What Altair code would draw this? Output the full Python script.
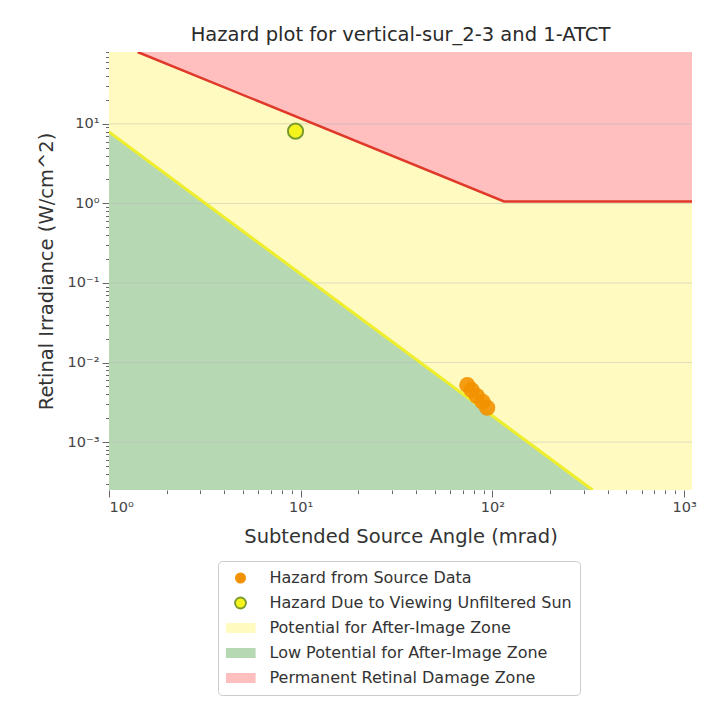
import altair as alt
import pandas as pd

# ---------------- data ----------------
x_domain = [1, 1100]
y_domain = [2.5e-4, 80]

# permanent retinal damage boundary (red)
red_x = [1.41, 115, 1100]
red_y = [80, 1.06, 1.06]

# after-image boundary (yellow line over green zone)
green_x = [1, 333]
green_y = [7.9, 2.5e-4]

# hazard from source data (orange)
src_x = [74, 78, 83, 89, 94]
src_y = [5.2e-3, 4.5e-3, 3.8e-3, 3.2e-3, 2.7e-3]

# unfiltered sun
sun_x = [9.4]
sun_y = [8.1]

labels = [
    "Hazard from Source Data",
    "Hazard Due to Viewing Unfiltered Sun",
    "Potential for After-Image Zone",
    "Low Potential for After-Image Zone",
    "Permanent Retinal Damage Zone",
]
colors = ["#f39200", "#f4f41c", "#fffbc0", "#b6d9b3", "#ffbfbf"]
edge_colors = ["transparent", "#7a9a30", "transparent", "transparent", "transparent"]
PATCH = "M-2.75,-0.9H2.75V0.9H-2.75Z"
shapes = ["circle", "circle", PATCH, PATCH, PATCH]

x_major = [1, 10, 100, 1000]
x_major_labels = ["10⁰", "10¹", "10²", "10³"]
x_minor = [2, 3, 4, 5, 6, 7, 8, 9,
           20, 30, 40, 50, 60, 70, 80, 90,
           200, 300, 400, 500, 600, 700, 800, 900]

y_major = [1e-3, 1e-2, 1e-1, 1, 10]
y_major_labels = ["10⁻³", "10⁻²", "10⁻¹", "10⁰", "10¹"]
y_minor = [3e-4, 4e-4, 5e-4, 6e-4, 7e-4, 8e-4, 9e-4,
           2e-3, 3e-3, 4e-3, 5e-3, 6e-3, 7e-3, 8e-3, 9e-3,
           2e-2, 3e-2, 4e-2, 5e-2, 6e-2, 7e-2, 8e-2, 9e-2,
           0.2, 0.3, 0.4, 0.5, 0.6, 0.7, 0.8, 0.9,
           2, 3, 4, 5, 6, 7, 8, 9,
           20, 30, 40, 50, 60, 70, 80]

title_text = "Hazard plot for vertical-sur_2-3 and 1-ATCT"
x_title = "Subtended Source Angle (mrad)"
y_title = "Retinal Irradiance (W/cm^2)"

# ---------------- helpers ----------------
FONT = "DejaVu Sans"
major_test = "abs(log(datum.value)/LN10 - round(log(datum.value)/LN10)) < 0.001"


def label_expr(vals, labs):
    parts = [f"abs(datum.value - {v!r}) < {v!r} * 0.001 ? '{l}'" for v, l in zip(vals, labs)]
    return " : ".join(parts) + " : ''"


xscale = alt.Scale(type="log", domain=x_domain, nice=False)
yscale = alt.Scale(type="log", domain=y_domain, nice=False)

xaxis = alt.Axis(
    values=sorted(x_major + x_minor),
    labelExpr=label_expr(x_major, x_major_labels),
    tickSize={"condition": {"test": major_test, "value": 7}, "value": 3.5},
    title=x_title,
    titlePadding=14,
)
yaxis = alt.Axis(
    values=sorted(y_major + y_minor),
    labelExpr=label_expr(y_major, y_major_labels),
    tickSize={"condition": {"test": major_test, "value": 7}, "value": 3.5},
    title=y_title,
    titlePadding=11,
)


def X(f):
    return alt.X(f, type="quantitative", scale=xscale, axis=xaxis)


def Y(f):
    return alt.Y(f, type="quantitative", scale=yscale, axis=yaxis)


legend = alt.Legend(
    title=None,
    orient="none",
    legendX=109,
    legendY=509,
    direction="vertical",
    padding=8,
    rowPadding=7,
    clipHeight=18,
    symbolSize=121,
    symbolOffset=6.5,
    symbolOpacity=1,
    symbolStrokeWidth=1.8,
    labelOffset=21,
    labelFont=FONT,
    labelFontSize=16,
    labelColor="#333333",
    labelLimit=500,
    strokeColor="#cccccc",
    cornerRadius=4,
    fillColor="white",
)

fill_scale = alt.Scale(domain=labels, range=colors)
shape_scale = alt.Scale(domain=labels, range=shapes)
stroke_scale = alt.Scale(domain=labels, range=edge_colors)


def FILL():
    return alt.Fill("cat:N", scale=fill_scale, legend=legend)


def SHAPE():
    return alt.Shape("cat:N", scale=shape_scale, legend=legend)


def STROKE():
    return alt.Stroke("cat:N", scale=stroke_scale, legend=legend)


# ---------------- layers ----------------
bg_df = pd.DataFrame({"x": [x_domain[0]], "x2": [x_domain[1]],
                      "y": [y_domain[0]], "y2": [y_domain[1]], "cat": [labels[2]]})
bg = alt.Chart(bg_df).mark_rect().encode(
    x=X("x"), x2="x2", y=Y("y"), y2="y2", fill=FILL(),
)

red_df = pd.DataFrame({"x": red_x, "y": red_y, "top": [y_domain[1]] * len(red_x),
                       "cat": [labels[4]] * len(red_x)})
pink = alt.Chart(red_df).mark_area(clip=True).encode(
    x=X("x"), y=Y("y"), y2="top", fill=FILL(),
)

green_df = pd.DataFrame({"x": green_x, "y": green_y, "bot": [y_domain[0]] * len(green_x),
                         "cat": [labels[3]] * len(green_x)})
green = alt.Chart(green_df).mark_area(clip=True).encode(
    x=X("x"), y=Y("y"), y2="bot", fill=FILL(),
)

grid_df = pd.DataFrame({"y": y_major})
grid = alt.Chart(grid_df).mark_rule(color="#b5b5b5", strokeWidth=1, opacity=0.45).encode(
    y=Y("y"),
)

gline = alt.Chart(green_df).mark_line(color="#eeee2c", strokeWidth=3, clip=True).encode(
    x=X("x"), y=Y("y"),
)
rline = alt.Chart(red_df).mark_line(color="#e0392a", strokeWidth=2.5, clip=True).encode(
    x=X("x"), y=Y("y"),
)

src_df = pd.DataFrame({"x": src_x, "y": src_y, "cat": [labels[0]] * len(src_x)})
src = alt.Chart(src_df).mark_point(size=260, filled=True, opacity=0.9, strokeWidth=2).encode(
    x=X("x"), y=Y("y"), fill=FILL(), shape=SHAPE(), stroke=STROKE(),
)

sun_df = pd.DataFrame({"x": sun_x, "y": sun_y, "cat": [labels[1]] * len(sun_x)})
sun = alt.Chart(sun_df).mark_point(size=230, filled=True, opacity=1, strokeWidth=2).encode(
    x=X("x"), y=Y("y"), fill=FILL(), shape=SHAPE(), stroke=STROKE(),
)

chart = alt.layer(bg, pink, green, grid, gline, rline, src, sun).properties(
    width=583,
    height=438,
    title=alt.TitleParams(title_text, fontSize=19.5, font=FONT, fontWeight="normal",
                          color="#2a2a2a", offset=6, anchor="middle"),
    autosize=alt.AutoSizeParams(type="none"),
    padding={"left": 109, "top": 52, "right": 18, "bottom": 216},
    background="white",
).configure_view(
    stroke=None
).configure_axis(
    labelFont=FONT,
    labelFontSize=14.5,
    labelColor="#444444",
    titleFont=FONT,
    titleFontSize=19.5,
    titleColor="#333333",
    titleFontWeight="normal",
    tickColor="#666666",
    domain=False,
    grid=False,
    labelPadding=3,
)

chart.save("out.html", embed_options={"renderer": "svg", "actions": False})
